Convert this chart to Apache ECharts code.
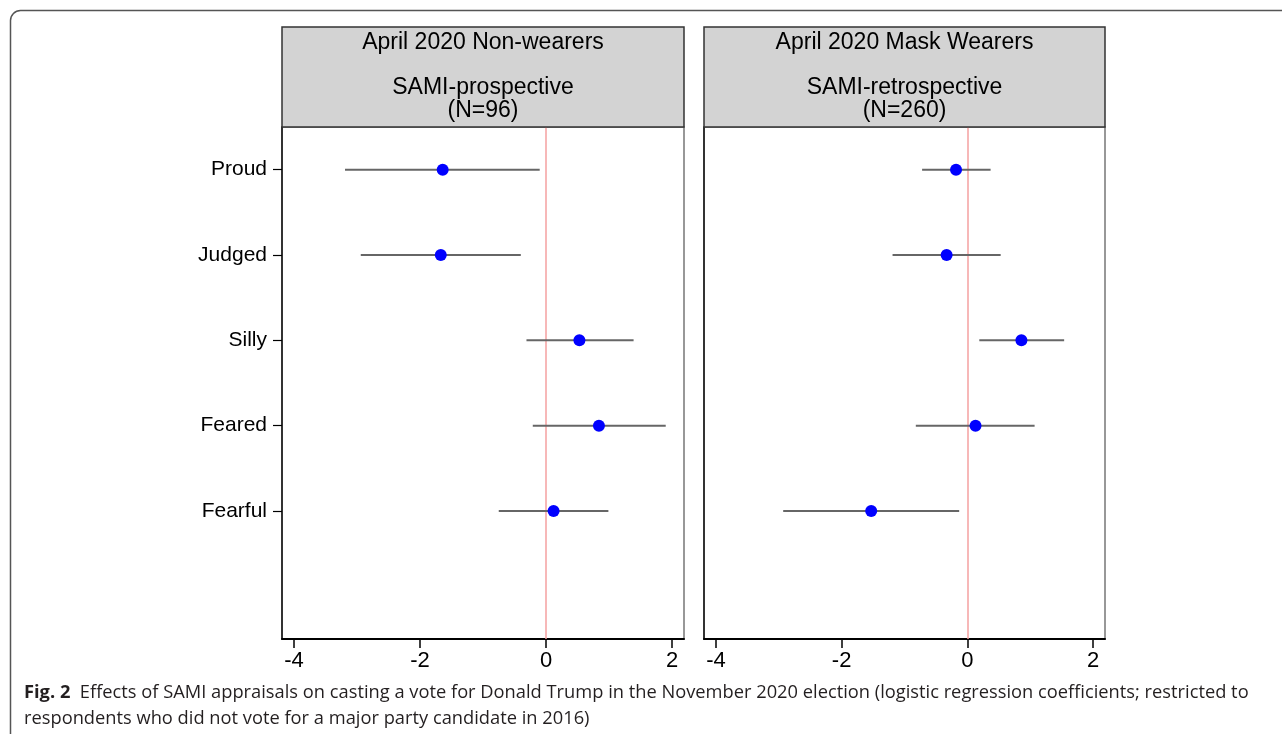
<!DOCTYPE html>
<html>
<head>
<meta charset="utf-8">
<script src="https://cdn.jsdelivr.net/npm/echarts@6/dist/echarts.min.js"></script>
<style>
  html, body { margin: 0; padding: 0; background: #fff; }
  #main { width: 1282px; height: 734px; }
</style>
</head>
<body>
<div id="main"></div>
<script>
// categories, top to bottom (last slot is an empty row, as in the original)
const categories = ['Proud', 'Judged', 'Silly', 'Feared', 'Fearful'];
const xTicks = [-4, -2, 0, 2];

// April 2020 Non-wearers, SAMI-prospective (N=96)
const nonEst = [-1.64, -1.67, 0.53, 0.84, 0.12];
const nonLo = [-3.19, -2.94, -0.31, -0.21, -0.75];
const nonHi = [-0.10, -0.40, 1.39, 1.90, 0.99];

// April 2020 Mask Wearers, SAMI-retrospective (N=260)
const maskEst = [-0.18, -0.33, 0.86, 0.13, -1.53];
const maskLo = [-0.72, -1.19, 0.19, -0.82, -2.93];
const maskHi = [0.37, 0.53, 1.54, 1.07, -0.13];

const panelTitles = [
  ['April 2020 Non-wearers', 'SAMI-prospective', '(N=96)'],
  ['April 2020 Mask Wearers', 'SAMI-retrospective', '(N=260)']
];

const FONT = '"Liberation Sans", Arial, sans-serif';
const yCats = categories.concat(['']);

const chart = echarts.init(document.getElementById('main'));

const grids = [
  { left: 282, top: 127, width: 402, height: 512 },
  { left: 704, top: 127, width: 401, height: 512 }
];

function xAxisFor(i) {
  return {
    type: 'value',
    gridIndex: i,
    min: -4.19,
    max: 2.19,
    splitLine: { show: false },
    axisLine: { show: true, onZero: false, lineStyle: { color: '#000', width: 2 } },
    axisTick: { show: true, customValues: xTicks, length: 9, lineStyle: { color: '#000', width: 1.5 } },
    axisLabel: { customValues: xTicks, color: '#000', fontSize: 22, fontFamily: FONT, margin: 11 }
  };
}

function yAxisFor(i) {
  return {
    type: 'category',
    gridIndex: i,
    data: yCats,
    inverse: true,
    axisLine: { show: true, onZero: false, lineStyle: { color: '#111', width: 1.5 } },
    axisTick: {
      show: i === 0,
      alignWithLabel: true,
      length: 9,
      interval: (idx) => idx < categories.length,
      lineStyle: { color: '#000', width: 1.2 }
    },
    axisLabel: { show: i === 0, color: '#000', fontSize: 21, fontFamily: FONT, margin: 15 },
    splitLine: { show: false }
  };
}

function errSeries(i, lo, hi) {
  return {
    type: 'custom',
    xAxisIndex: i,
    yAxisIndex: i,
    data: categories.map((c, k) => [lo[k], hi[k], c]),
    renderItem: function (params, api) {
      const a = api.coord([api.value(0), api.value(2)]);
      const b = api.coord([api.value(1), api.value(2)]);
      return {
        type: 'line',
        shape: { x1: a[0], y1: a[1], x2: b[0], y2: b[1] },
        style: { stroke: '#666', lineWidth: 2 }
      };
    },
    encode: { x: [0, 1], y: 2 },
    z: 3
  };
}

function pointSeries(i, est) {
  return {
    type: 'scatter',
    xAxisIndex: i,
    yAxisIndex: i,
    data: categories.map((c, k) => [est[k], c]),
    symbol: 'circle',
    symbolSize: 12,
    itemStyle: { color: '#0000ff', opacity: 1 },
    z: 5,
    markLine: {
      silent: true,
      symbol: 'none',
      label: { show: false },
      lineStyle: { color: '#f4a0a0', width: 1.5, type: 'solid' },
      data: [{ xAxis: 0 }],
      z: 2
    }
  };
}

const graphics = [
  {
    type: 'rect',
    shape: { x: 10.5, y: 10.5, width: 1400, height: 900, r: 10 },
    style: { fill: 'none', stroke: '#555', lineWidth: 1.5 },
    silent: true
  }
];

grids.forEach((g, i) => {
  graphics.push({
    type: 'rect',
    shape: { x: g.left, y: 27, width: g.width, height: 100 },
    style: { fill: '#d3d3d3', stroke: '#333', lineWidth: 1.5 },
    z: 10
  });
  const cx = g.left + g.width / 2;
  const lines = panelTitles[i];
  [43, 88, 111].forEach((y, k) => {
    graphics.push({
      type: 'text',
      x: cx,
      y: y,
      style: {
        text: lines[k],
        fill: '#000',
        font: '23px ' + FONT,
        textAlign: 'center',
        textVerticalAlign: 'middle'
      },
      z: 11
    });
  });
});

graphics.push({
  type: 'text',
  left: 24,
  top: 680,
  style: {
    text: '{b|Fig. 2}  Effects of SAMI appraisals on casting a vote for Donald Trump in the November 2020 election (logistic regression coefficients; restricted to\nrespondents who did not vote for a major party candidate in 2016)',
    rich: {
      b: { font: 'bold 18.3px "Open Sans", sans-serif', fill: '#231f20' }
    },
    font: '18.3px "Open Sans", sans-serif',
    fill: '#231f20',
    lineHeight: 26
  },
  z: 11
});

const option = {
  animation: false,
  backgroundColor: '#fff',
  grid: grids.map(g => Object.assign({ show: true, borderColor: '#777', borderWidth: 1.5, backgroundColor: '#fff' }, g)),
  xAxis: [xAxisFor(0), xAxisFor(1)],
  yAxis: [yAxisFor(0), yAxisFor(1)],
  series: [
    errSeries(0, nonLo, nonHi),
    pointSeries(0, nonEst),
    errSeries(1, maskLo, maskHi),
    pointSeries(1, maskEst)
  ],
  graphic: graphics
};

chart.setOption(option);
</script>
</body>
</html>
